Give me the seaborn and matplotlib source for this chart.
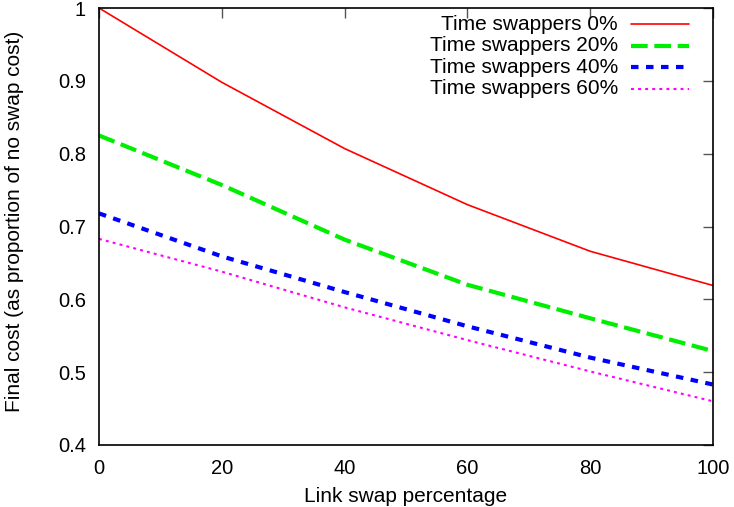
import matplotlib
matplotlib.use("Agg")
import matplotlib.pyplot as plt
import seaborn as sns
import pandas as pd

# Link swap percentage on the x axis
link_swap = [0, 20, 40, 60, 80, 100]

# Final cost, normalised by the cost with no swaps, per time-swapper share
cost_ts0 = [1.000, 0.898, 0.807, 0.730, 0.666, 0.619]
cost_ts20 = [0.825, 0.757, 0.682, 0.620, 0.574, 0.529]
cost_ts40 = [0.718, 0.659, 0.610, 0.563, 0.520, 0.483]
cost_ts60 = [0.683, 0.638, 0.589, 0.544, 0.501, 0.460]

series_names = ["Time swappers 0%", "Time swappers 20%",
                "Time swappers 40%", "Time swappers 60%"]
series_values = [cost_ts0, cost_ts20, cost_ts40, cost_ts60]

x_ticks = [0, 20, 40, 60, 80, 100]
y_ticks = [0.4, 0.5, 0.6, 0.7, 0.8, 0.9, 1.0]
y_tick_labels = ["0.4", "0.5", "0.6", "0.7", "0.8", "0.9", "1"]

df = pd.DataFrame({
    "link": link_swap * len(series_names),
    "cost": [v for vals in series_values for v in vals],
    "series": [n for n in series_names for _ in link_swap],
})

sns.set_theme(style="white")
plt.rcParams["font.family"] = ["Liberation Sans", "DejaVu Sans"]
plt.rcParams["text.color"] = "black"
plt.rcParams["axes.labelcolor"] = "black"
plt.rcParams["xtick.color"] = "black"
plt.rcParams["ytick.color"] = "black"

FS = 15
colors = ["#ff0000", "#00ee00", "#0000ff", "#ff00ff"]
widths = [1.2, 3.0, 3.0, 1.5]
dash_patterns = [(None, None), (4.0, 1.6), (1.8, 1.8), (1.4, 2.0)]

fig = plt.figure(figsize=(7.34, 5.07), dpi=100)
ax = fig.add_axes([99 / 734, 1 - 445 / 507, (713 - 99) / 734, (445 - 8) / 507])

for name, color, lw, dash in zip(series_names, colors, widths, dash_patterns):
    sub = df[df["series"] == name]
    sns.lineplot(data=sub, x="link", y="cost", ax=ax, color=color,
                 linewidth=lw, legend=False)
    line = ax.lines[-1]
    if dash[0] is not None:
        line.set_dashes(dash)
        line.set_dash_capstyle("butt")

ax.set_xlim(0, 100)
ax.set_ylim(0.4, 1.0)
ax.set_xticks(x_ticks)
ax.set_xticklabels([str(t) for t in x_ticks])
ax.set_yticks(y_ticks)
ax.set_yticklabels(y_tick_labels)
ax.tick_params(axis="both", which="both", direction="in", length=7,
               width=1, color="#555555", labelsize=14.5, labelcolor="black",
               top=True, right=True)
ax.tick_params(axis="x", pad=10)
ax.tick_params(axis="y", pad=9.5)
for spine in ax.spines.values():
    spine.set_visible(True)
    spine.set_color("black")
    spine.set_linewidth(1.2)

ax.set_xlabel("Link swap percentage", fontsize=FS, color="black")
ax.xaxis.set_label_coords(0.5, -(487 - 445) / 437)
ax.set_ylabel("Final cost (as proportion of no swap cost)", fontsize=FS,
              color="black")
ax.yaxis.set_label_coords((24 - 99) / 614, (445 - 221) / 437)

# Key in the top-right corner: right-aligned text followed by a line sample
key_rows_px = [24, 45.5, 67, 88.5]
for name, color, lw, dash, ypx in zip(series_names, colors, widths,
                                      dash_patterns, key_rows_px):
    yf = 1 - (ypx - 8) / (445 - 8)
    ax.text((618 - 99) / 614, yf, name, transform=ax.transAxes,
            ha="right", va="center", fontsize=FS, color="black")
    sample, = ax.plot([(631 - 99) / 614, (689 - 99) / 614], [yf, yf],
                      transform=ax.transAxes, color=color, linewidth=lw,
                      clip_on=False)
    if dash[0] is not None:
        sample.set_dashes(dash)
        sample.set_dash_capstyle("butt")

fig.savefig("out.png", dpi=100)
